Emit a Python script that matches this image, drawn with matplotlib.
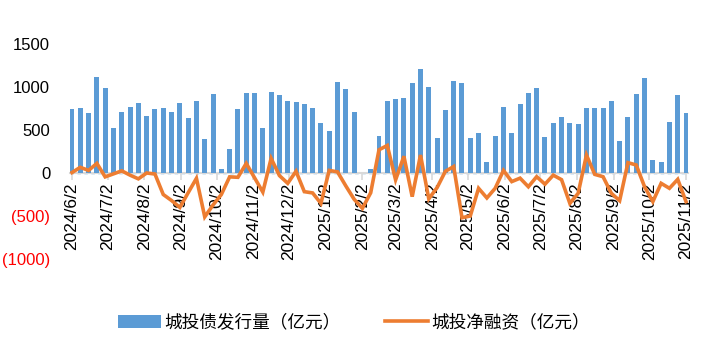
import numpy as np
import pandas as pd
import matplotlib
matplotlib.use('Agg')
import matplotlib.pyplot as plt
import matplotlib.dates as mdates
from matplotlib.ticker import FuncFormatter, FixedLocator

plt.rcParams['font.family'] = ['Liberation Sans', 'Noto Sans CJK SC', 'DejaVu Sans']

# weekly dates, 2024/6/2 .. 2025/11/2
weeks = pd.date_range('2024-06-02', '2025-11-02', freq='7D')

issuance = [741, 752, 694, 1120, 992, 520, 706, 771, 810, 666,
            741, 760, 706, 818, 643, 841, 399, 922, 43, 276,
            750, 927, 927, 520, 938, 907, 841, 830, 799, 760,
            578, 492, 1055, 973, 706, 0, 47, 434, 841, 857,
            868, 1043, 1206, 997, 403, 733, 1070, 1043, 403, 461,
            124, 434, 771, 461, 799, 927, 985, 415, 578, 655,
            578, 566, 752, 760, 752, 841, 376, 647, 915, 1101,
            151, 124, 589, 903, 694]

net_financing = [5, 66, 30, 112, -45, -10, 25, -25, -68, 0,
                 -12, -250, -320, -400, -230, -62, -510, -372, -250, -45,
                 -50, 112, -55, -222, 170, -30, -120, 20, -217, -232,
                 -353, 30, 13, -150, -305, -411, -230, 270, 320, -80,
                 195, -275, 209, -300, -170, 20, 75, -520, -500, -178,
                 -290, -178, 30, -100, -60, -160, -43, -130, -25, -78,
                 -353, -236, 209, -16, -43, -236, -322, 120, 93, -159,
                 -333, -120, -178, -74, -333]

bar_label = '城投债发行量（亿元）'
line_label = '城投净融资（亿元）'

fig = plt.figure(figsize=(7.09, 3.55), dpi=100)
ax = fig.add_axes([69.6 / 709, 1 - 259 / 355, (688.4 - 69.6) / 709, 215 / 355])

bars = ax.bar(weeks, issuance, width=4.2, color='#5B9BD5', label=bar_label, zorder=2)
line, = ax.plot(weeks, net_financing, color='#ED7D31', lw=2.6, label=line_label,
                zorder=3, solid_joinstyle='miter')
ax.axhline(0, color='#5B9BD5', lw=1.0, ls=(0, (2.5, 2.5)), zorder=1)

ax.set_ylim(-1000, 1500)
ax.set_xlim(weeks[0] - pd.Timedelta(days=2), weeks[-1] + pd.Timedelta(days=2))
ax.yaxis.set_major_locator(FixedLocator([-1000, -500, 0, 500, 1000, 1500]))
ax.yaxis.set_major_formatter(FuncFormatter(
    lambda v, p: '(%d)' % abs(v) if v < 0 else '%d' % v))
ax.tick_params(axis='y', length=0, pad=14, labelsize=12)
for lab in ax.get_yticklabels():
    if lab.get_text().startswith('('):
        lab.set_color('red')

ax.xaxis.set_major_locator(mdates.MonthLocator(bymonthday=2))
ax.xaxis.set_major_formatter(FuncFormatter(
    lambda v, p: '{0.year}/{0.month}/{0.day}'.format(mdates.num2date(v))))
ax.tick_params(axis='x', direction='out', length=5, width=1.2, color='#D9D9D9',
               labelsize=12.5, pad=2, labelrotation=90)

for s in ['top', 'right', 'left']:
    ax.spines[s].set_visible(False)
ax.spines['bottom'].set_position(('data', 0))
ax.spines['bottom'].set_color('#D9D9D9')
ax.spines['bottom'].set_linewidth(1.5)
ax.spines['bottom'].set_zorder(1.5)

fig.legend([bars, line], [bar_label, line_label], loc='center',
           bbox_to_anchor=(354 / 709, 1 - 323 / 355), ncol=2,
           frameon=False, fontsize=12.7, handlelength=2.45, handleheight=0.7,
           handletextpad=0.2, columnspacing=2.5)

fig.savefig('out.png', dpi=100)
